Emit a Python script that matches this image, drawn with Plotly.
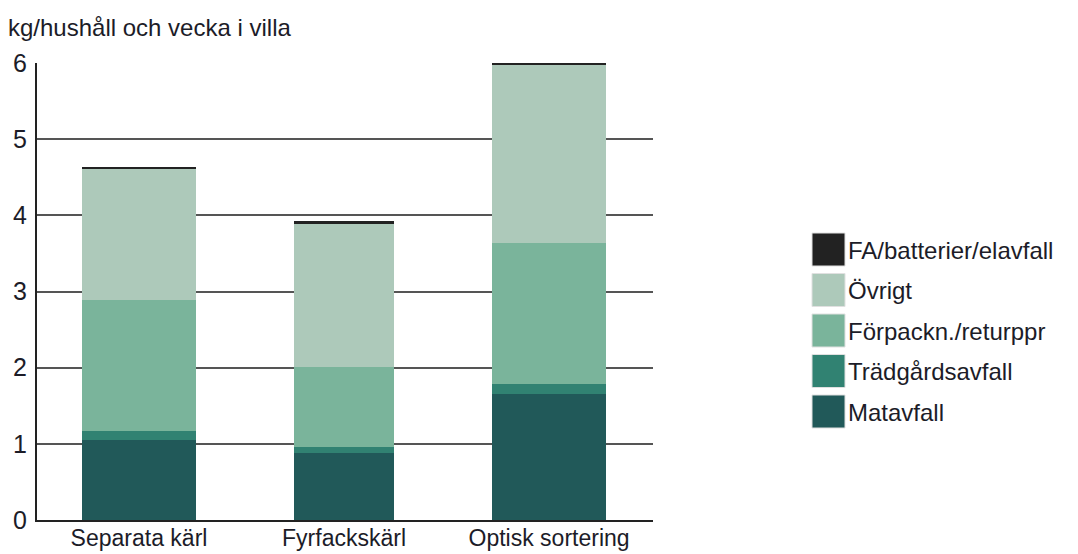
import plotly.graph_objects as go

categories = ["Separata kärl", "Fyrfackskärl", "Optisk sortering"]
bar_widths = [0.556, 0.49, 0.556]

series_names = ["Matavfall", "Trädgårdsavfall", "Förpackn./returppr", "Övrigt", "FA/batterier/elavfall"]
matavfall = [1.05, 0.88, 1.66]
tradgardsavfall = [0.12, 0.08, 0.13]
forpackn = [1.72, 1.05, 1.85]
ovrigt = [1.72, 1.88, 2.33]
fa_batterier = [0.03, 0.03, 0.03]
series_values = [matavfall, tradgardsavfall, forpackn, ovrigt, fa_batterier]
series_colors = ["#215959", "#318272", "#7ab49b", "#adc9ba", "#222222"]

y_ticks = [0, 1, 2, 3, 4, 5, 6]
y_title = "kg/hushåll och vecka i villa"

FONT = "Liberation Sans, Arial, sans-serif"
TXT = "#1c1c28"

fig = go.Figure()
for name, vals, col in zip(series_names, series_values, series_colors):
    fig.add_trace(go.Bar(
        x=categories, y=vals, name=name, width=bar_widths,
        marker=dict(color=col, line=dict(width=0)),
        showlegend=False,
    ))

W, H = 1078, 554
L, R, T, B = 37, 425, 63, 34
pw = W - L - R
ph = H - T - B

fig.update_layout(
    width=W, height=H,
    barmode="stack",
    paper_bgcolor="white", plot_bgcolor="white",
    margin=dict(l=L, r=R, t=T, b=B),
    font=dict(family=FONT, color=TXT, size=24),
    xaxis=dict(
        range=[-0.4976, 2.507], showgrid=False, automargin=False,
        showline=True, linecolor="#222222", linewidth=2,
        ticks="", tickfont=dict(size=23, color=TXT),
        ticklabelstandoff=-4,
    ),
    yaxis=dict(
        range=[0, 6], tickvals=y_ticks, automargin=False,
        showgrid=True, gridcolor="#555555", gridwidth=1.6,
        showline=True, linecolor="#222222", linewidth=2,
        zeroline=False, ticks="", tickfont=dict(size=25, color=TXT),
        ticklabelstandoff=3,
    ),
)

annotations = [dict(
    text=y_title, xref="paper", yref="paper",
    x=(6 - L) / pw, y=(H - B - 27) / ph, xanchor="left", yanchor="middle",
    showarrow=False, font=dict(size=24, color=TXT, family=FONT),
)]
shapes = []

# manual legend (top to bottom)
legend_order = list(range(len(series_names)))[::-1]
top0 = 233
step = 40.5
for i, idx in enumerate(legend_order):
    ytop = top0 + i * step
    ybot = ytop + 33
    shapes.append(dict(
        type="rect", xref="paper", yref="paper",
        x0=(812 - L) / pw, x1=(845 - L) / pw,
        y0=(H - B - ybot) / ph, y1=(H - B - ytop) / ph,
        fillcolor=series_colors[idx], line=dict(width=1, color="#e0e0e0"),
    ))
    annotations.append(dict(
        text=series_names[idx], xref="paper", yref="paper",
        x=(846 - L) / pw, y=(H - B - (ytop + 17)) / ph,
        xanchor="left", yanchor="middle", showarrow=False,
        font=dict(size=24, color=TXT, family=FONT),
    ))

fig.update_layout(annotations=annotations, shapes=shapes)
fig.write_html(
    "out.html",
    config={"displayModeBar": False},
    post_script="document.body.style.margin='0';document.body.style.overflow='hidden';",
)
